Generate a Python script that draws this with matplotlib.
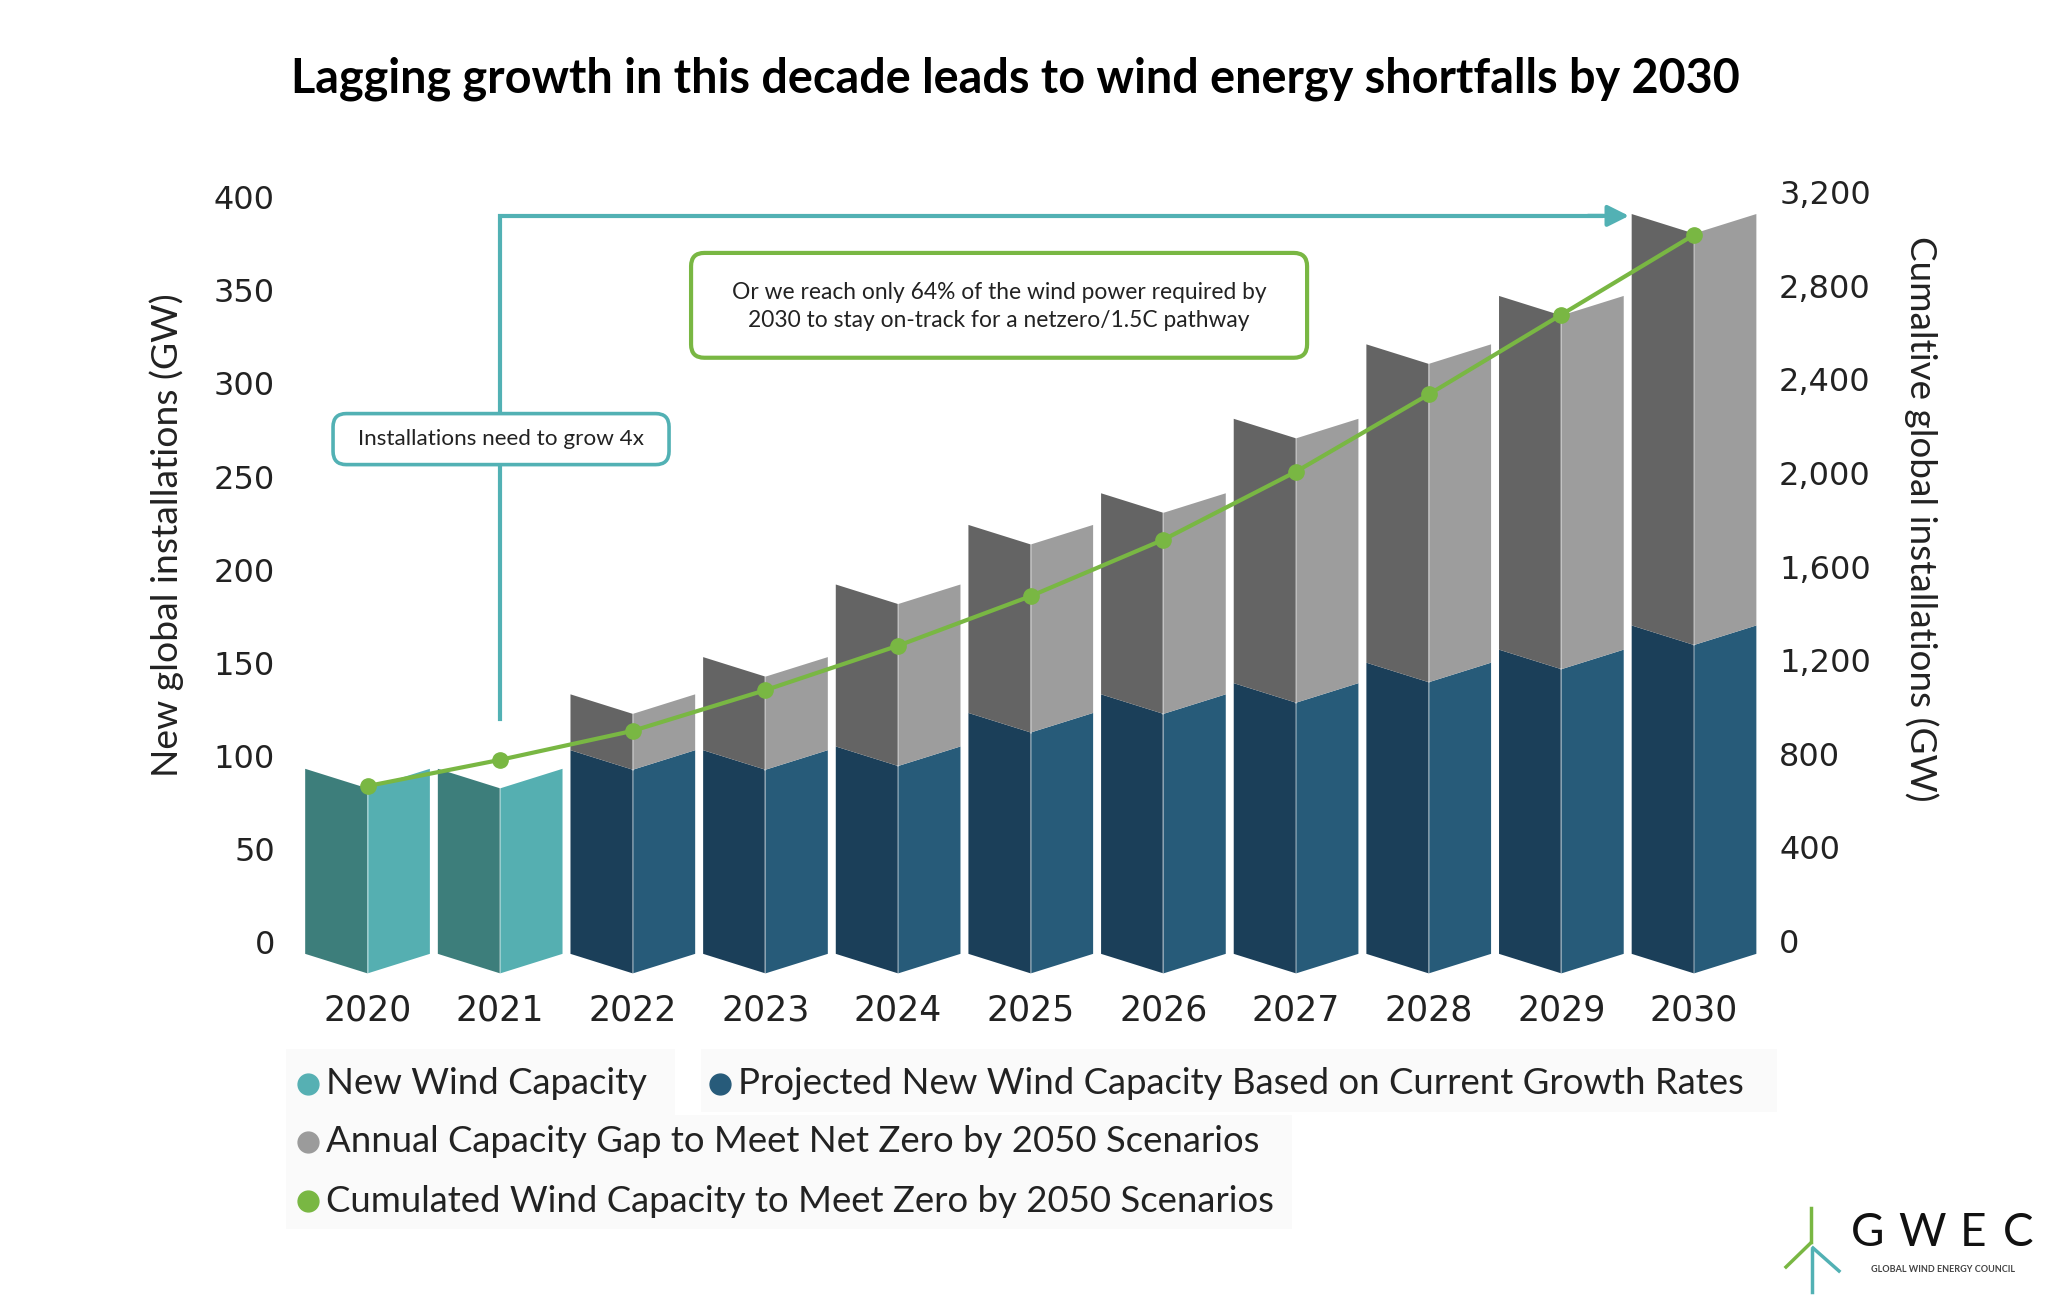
from matplotlib import pyplot as plt
from matplotlib.patches import FancyBboxPatch, Rectangle
from matplotlib.lines import Line2D
from matplotlib.ticker import FuncFormatter

years = ["2020", "2021", "2022", "2023", "2024", "2025",
         "2026", "2027", "2028", "2029", "2030"]
new_capacity = [93, 93, 0, 0, 0, 0, 0, 0, 0, 0, 0]
projected = [0, 0, 103, 103, 105, 123, 133, 139, 150, 157, 170]
gap = [0, 0, 30, 50, 87, 101, 108, 142, 171, 190, 221]
cumulative = [662, 774, 898, 1072, 1262, 1474, 1715, 2006, 2336, 2677, 3018]

TEAL = ("#3d7e7b", "#55afb1")
BLUE = ("#1b3f59", "#275b79")
GRAY = ("#646464", "#9d9d9d")
GREEN = "#79b743"
ARROW = "#52b1b4"
TXT = "#222222"
FONT = ["Lato", "DejaVu Sans"]

HALF = 0.47   # half width of a folded bar (x units)
DROP = 10.5   # how far the fold sits below the edges (GW)
BASE = -6.4   # bottom of the bar edges (GW)

fig = plt.figure(figsize=(20.56, 13.04), dpi=100)
ax = fig.add_axes([0.1465, 0.2491, 0.7097, 0.6139])
ax.set_xlim(-0.5, 10.5)
ax.set_ylim(-20, 410)


def folded(x, lo, hi, colors):
    dark, light = colors
    ax.fill([x - HALF, x, x, x - HALF], [lo, lo - DROP, hi - DROP, hi],
            color=dark, lw=0, zorder=2)
    ax.fill([x, x + HALF, x + HALF, x], [lo - DROP, lo, hi, hi - DROP],
            color=light, lw=0, zorder=2)
    ax.plot([x, x], [lo - DROP, hi - DROP], color="white", alpha=0.35,
            lw=1.2, zorder=3)


for i in range(len(years)):
    if new_capacity[i] > 0:
        folded(i, BASE, new_capacity[i], TEAL)
    if projected[i] > 0:
        folded(i, BASE, projected[i], BLUE)
        folded(i, projected[i], projected[i] + gap[i], GRAY)

for s in ax.spines.values():
    s.set_visible(False)
ax.set_xticks(range(len(years)))
ax.set_xticklabels(years)
ax.set_yticks(range(0, 401, 50))
ax.tick_params(axis="y", length=0, pad=19, labelsize=23, labelcolor=TXT)
ax.tick_params(axis="x", length=0, pad=10, labelsize=25, labelcolor=TXT)

# cumulative line on the right axis
ax2 = ax.twinx()
ax2.set_ylim(-163.5, 3258.2)
ax2.plot(range(len(years)), cumulative, color=GREEN, lw=3, marker="o",
         markersize=11, zorder=5)
for s in ax2.spines.values():
    s.set_visible(False)
ax2.set_yticks(range(0, 3201, 400))
ax2.yaxis.set_major_formatter(FuncFormatter(lambda v, p: f"{v:,.0f}"))
ax2.tick_params(axis="y", length=0, pad=13.5, labelsize=23, labelcolor=TXT)

# "grow 4x" arrow and boxes
ax.plot([1, 1, 9.3], [120, 390, 390], color=ARROW, lw=3, zorder=4,
        solid_joinstyle="miter")
ax.annotate("", xy=(9.51, 390), xytext=(9.2, 390),
            arrowprops=dict(arrowstyle="-|>", color=ARROW, lw=3,
                            mutation_scale=32, shrinkA=0, shrinkB=0),
            zorder=4)

aspect = (1 / 1.8618) / (1 / 132.65)
box1 = FancyBboxPatch((-0.26, 256.4), 2.533, 27.4,
                      boxstyle="round,pad=0,rounding_size=0.1",
                      mutation_aspect=aspect, facecolor="white",
                      edgecolor=ARROW, lw=2.6, zorder=6)
ax.add_patch(box1)
ax.text(1.006, 270, "Installations need to grow 4x", ha="center",
        va="center", fontsize=16.2, color=TXT, family=FONT, zorder=7)

box2 = FancyBboxPatch((2.439, 313.8), 4.644, 56.3,
                      boxstyle="round,pad=0,rounding_size=0.1",
                      mutation_aspect=aspect, facecolor="white",
                      edgecolor=GREEN, lw=3, zorder=6)
ax.add_patch(box2)
ax.text(4.761, 341.5,
        "Or we reach only 64% of the wind power required by\n"
        "2030 to stay on-track for a netzero/1.5C pathway",
        ha="center", va="center", fontsize=16.4, color=TXT, family=FONT,
        linespacing=1.4, zorder=7)

# titles and axis labels
fig.text(0.4937, 0.9394,
         "Lagging growth in this decade leads to wind energy shortfalls by 2030",
         ha="center", va="center", fontsize=33.7, fontweight="bold",
         color="black", family=FONT)
fig.text(0.0810, 0.5897, "New global installations (GW)", rotation=90,
         ha="center", va="center", fontsize=26.8, color=TXT, family=FONT)
fig.text(0.9344, 0.6020, "Cumaltive global installations (GW)", rotation=270,
         ha="center", va="center", fontsize=26.6, color=TXT, family=FONT)

# legend (drawn by hand, two items on the first row)
W, H = 2056, 1304
for x0, y0, w, h in [(286, 1049, 389, 68), (701, 1049, 1076, 63),
                     (286, 1115, 1006, 114)]:
    fig.add_artist(Rectangle((x0 / W, 1 - (y0 + h) / H), w / W, h / H,
                             transform=fig.transFigure, facecolor="#fafafa",
                             edgecolor="none", zorder=0))

legend_items = [
    (308, 1084, "#56b0b3", "New Wind Capacity"),
    (720, 1084, "#275b7a", "Projected New Wind Capacity Based on Current Growth Rates"),
    (308, 1142, "#9b9b9b", "Annual Capacity Gap to Meet Net Zero by 2050 Scenarios"),
    (308, 1201, GREEN, "Cumulated Wind Capacity to Meet Zero by 2050 Scenarios"),
]
for mx, my, col, label in legend_items:
    fig.add_artist(Line2D([mx / W], [1 - my / H], marker="o", markersize=15,
                          color=col, lw=0, transform=fig.transFigure))
    fig.text((mx + 18) / W, 1 - my / H, label, ha="left", va="center",
             fontsize=26.3, color=TXT, family=FONT)

# GWEC logo
for (x0, y0), (x1, y1), col in [((1810.7, 1208), (1810.7, 1242), GREEN),
                                ((1810.7, 1243), (1786, 1267), GREEN),
                                ((1813, 1248), (1839, 1271), ARROW),
                                ((1811.7, 1250), (1811.7, 1292), ARROW)]:
    fig.add_artist(Line2D([x0 / W, x1 / W], [1 - y0 / H, 1 - y1 / H],
                          color=col, lw=2.5, transform=fig.transFigure))
for letter, lx in zip("GWEC", [1867.5, 1922, 1973.5, 2018.5]):
    fig.text(lx / W, 1 - 1232.5 / H, letter, ha="center", va="center",
             fontsize=33, color="#111111", family=FONT)
fig.text(1943 / W, 1 - 1269 / H, "GLOBAL WIND ENERGY COUNCIL", ha="center",
         va="center", fontsize=6.5, color="#444444", family=FONT,
         fontweight="bold")

fig.savefig("out.png", dpi=100)
plt.close(fig)
